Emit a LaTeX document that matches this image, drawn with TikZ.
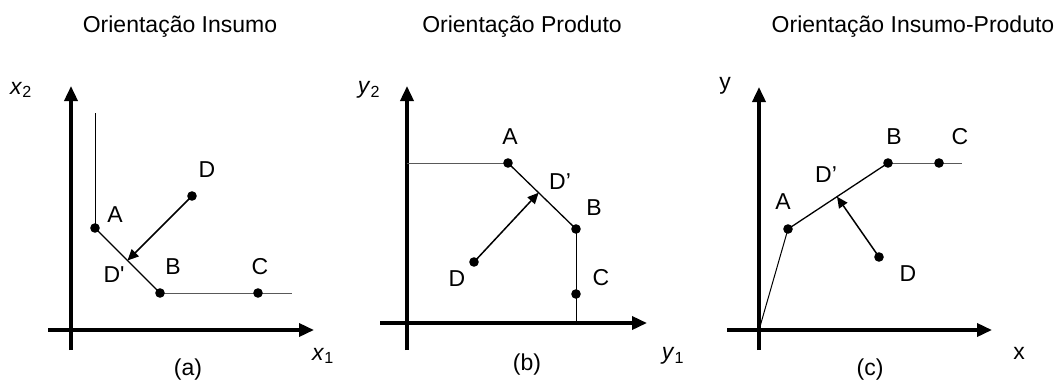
\documentclass[tikz,border=0pt]{standalone}
\usepackage{fontspec}
\setmainfont{Liberation Sans}
\newfontfamily\plainquote[Ligatures=ResetAll]{Liberation Sans}
\usetikzlibrary{calc, arrows.meta}

\begin{document}
\begin{tikzpicture}[x=1pt, y=-1pt, font=\fontsize{23}{27}\selectfont,
    axis/.style={line width=3.5pt, -{Triangle[length=15pt, width=13pt]}},
    front/.style={line width=1.3pt},
    tail/.style={line width=1pt, black!65},
    proj/.style={line width=1.5pt, -{Triangle[length=11pt, width=10pt]}},
    dot/.style={black}]

    \useasboundingbox (0,0) rectangle (1057,383);

    % ==========================================
    % PANEL (a): INPUT ORIENTATION
    % ==========================================
    \begin{scope}
        % Coordinates
        \coordinate (Oa) at (71,330);
        \coordinate (A) at (95,228);
        \coordinate (B) at (160,293);
        \coordinate (C) at (258,293);
        \coordinate (D) at (192,196);
        \coordinate (Dp) at ($(A)!0.5!(B)$);
        \coordinate (Atop) at (95,113);
        \coordinate (Cend) at (292,293);

        % Axes
        \draw[axis] (71,350) -- (71,86);
        \draw[axis] (48,330) -- (314,330);
        \node (titlea) at (180,27) {Orientação Insumo};
        \node (xtwo) at (21,90) {\textit{x}\textsubscript{2}};
        \node (xone) at (323,356) {\textit{x}\textsubscript{1}};
        \node (capa) at (188,370) {(a)};

        % Frontier
        \draw[line width=1pt] (Atop) -- (A);
        \draw[front] (A) -- (B);
        \draw[tail] (B) -- (Cend);
        \draw[proj] (D) -- (Dp);

        % Points and labels
        \foreach \p in {A,B,C,D} \fill[dot] (\p) circle (4.8pt);
        \node (lA) at (115,215) {A};
        \node (lB) at (173,267) {B};
        \node (lC) at (260,267) {C};
        \node (lD) at (207,170) {D};
        \node (lDp) at (114,275) {\plainquote D'};
    \end{scope}

    % ==========================================
    % PANEL (b): OUTPUT ORIENTATION
    % ==========================================
    \begin{scope}[xshift=350pt]
        % Coordinates
        \coordinate (Ob) at (57,323);
        \coordinate (A) at (158,163);
        \coordinate (B) at (226,229);
        \coordinate (C) at (226,294);
        \coordinate (D) at (124,262);
        \coordinate (Dp) at ($(A)!0.45!(B)$);
        \coordinate (Aleft) at (57,163);
        \coordinate (Cend) at (226,323);

        % Axes
        \draw[axis] (57,350) -- (57,86);
        \draw[axis] (30,323) -- (297,323);
        \node (titleb) at (172,27) {Orientação Produto};
        \node (ytwo) at (19,90) {\textit{y}\textsubscript{2}};
        \node (yone) at (323,356) {\textit{y}\textsubscript{1}};
        \node (capb) at (177,365) {(b)};

        % Frontier
        \draw[tail] (Aleft) -- (A);
        \draw[front] (A) -- (B);
        \draw[line width=1pt] (B) -- (Cend);
        \draw[proj] (D) -- (Dp);

        % Points and labels
        \foreach \p in {A,B,C,D} \fill[dot] (\p) circle (4.8pt);
        \node (lA) at (160,137) {A};
        \node (lB) at (244,208) {B};
        \node (lC) at (251,278) {C};
        \node (lD) at (107,279) {D};
        \node (lDp) at (210,182) {D'};
    \end{scope}

    % ==========================================
    % PANEL (c): INPUT-OUTPUT ORIENTATION
    % ==========================================
    \begin{scope}[xshift=700pt]
        % Coordinates
        \coordinate (Oc) at (59,330);
        \coordinate (A) at (88,229);
        \coordinate (B) at (188,163);
        \coordinate (C) at (239,163);
        \coordinate (D) at (179,257);
        \coordinate (Dp) at ($(A)!0.49!(B)$);
        \coordinate (Cend) at (262,163);

        % Axes
        \draw[axis] (59,350) -- (59,87);
        \draw[axis] (27,330) -- (292,330);
        \node (titlec) at (213,27) {Orientação Insumo-Produto};
        \node (ylab) at (25,86) {y};
        \node (xlab) at (319,353) {x};
        \node (capc) at (170,370) {(c)};

        % Frontier
        \draw[line width=1pt] (Oc) -- (A);
        \draw[front] (A) -- (B);
        \draw[tail] (B) -- (Cend);
        \draw[proj] (D) -- (Dp);

        % Points and labels
        \foreach \p in {A,B,C,D} \fill[dot] (\p) circle (4.8pt);
        \node (lA) at (83,202) {A};
        \node (lB) at (194,137) {B};
        \node (lC) at (260,137) {C};
        \node (lD) at (208,274) {D};
        \node (lDp) at (126,175) {D'};
    \end{scope}
\end{tikzpicture}
\end{document}
